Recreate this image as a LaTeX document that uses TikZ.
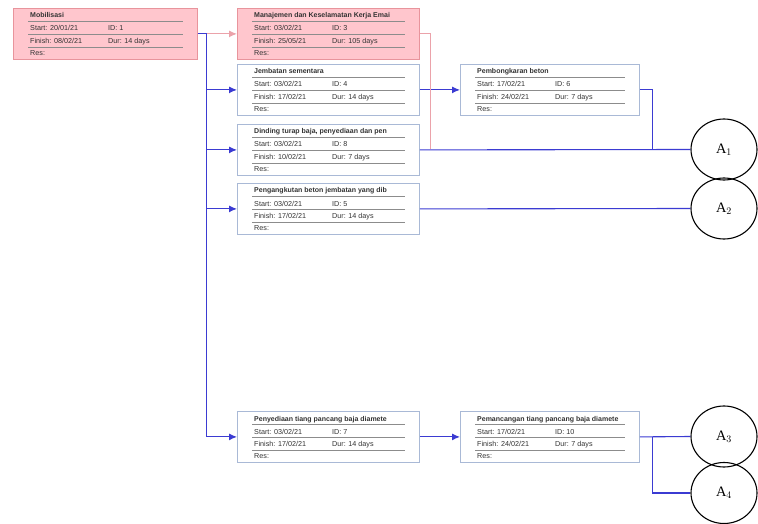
\documentclass[tikz,border=0pt]{standalone}
\usepackage{fontspec}
\setmainfont{Liberation Serif}
\setsansfont{Liberation Sans}
\usepackage{xcolor}
\usepackage{tikz}
\usetikzlibrary{shapes,arrows.meta,positioning,calc}
\definecolor{critfill}{HTML}{FFC6CD}
\definecolor{critline}{HTML}{E8949C}
\definecolor{taskline}{HTML}{A9B9D6}
\definecolor{rowgrey}{HTML}{8C8C8C}
\definecolor{linkblue}{HTML}{3B3BD2}
\definecolor{linkpink}{HTML}{EBA2AA}
\definecolor{textgrey}{HTML}{333333}

\tikzset{
  task/.style={draw=taskline, fill=white, line width=0.8pt, anchor=north west,
               minimum width=182pt, minimum height=51pt, inner sep=0pt},
  crit/.style={task, draw=critline, fill=critfill},
  celltext/.style={anchor=base west, inner sep=0pt, text=textgrey,
                   font=\sffamily\fontsize{7.2}{8}\selectfont},
  rowrule/.style={draw=rowgrey, line width=0.5pt},
  endnode/.style={draw=black, line width=1.1pt, ellipse, minimum width=66pt,
                  minimum height=61pt, inner sep=0pt, font=\Large},
  bluelink/.style={draw=linkblue, line width=1.1pt},
  pinklink/.style={draw=linkpink, line width=1.1pt},
  tip/.style={-{Latex[length=8pt,width=7pt]}}
}

% rows inside a task box: name, title, start, id, finish, duration
\newcommand{\taskrows}[6]{%
  \node[celltext, font=\sffamily\bfseries\fontsize{7}{8}\selectfont] at ($(#1.north west)+(17,10)$) {#2};
  \draw[rowrule] ($(#1.north west)+(15,13.5)$) -- ($(#1.north east)+(-15,13.5)$);
  \node[celltext] at ($(#1.north west)+(17,23)$) {Start: #3};
  \node[celltext] at ($(#1.north west)+(95,23)$) {ID: #4};
  \draw[rowrule] ($(#1.north west)+(15,26.5)$) -- ($(#1.north east)+(-15,26.5)$);
  \node[celltext] at ($(#1.north west)+(17,35.5)$) {Finish: #5};
  \node[celltext] at ($(#1.north west)+(95,35.5)$) {Dur: #6};
  \draw[rowrule] ($(#1.north west)+(15,39)$) -- ($(#1.north east)+(-15,39)$);
  \node[celltext] at ($(#1.north west)+(17,47.5)$) {Res:};
}

\begin{document}
\begin{tikzpicture}[x=1pt, y=-1pt]
  \useasboundingbox (0,0) rectangle (758,524);

  % task boxes
  \node[crit, minimum width=184pt] (mob) at (13,8) {};
  \node[crit] (kkk) at (237,8) {};
  \node[task] (jemb) at (237,64) {};
  \node[task, minimum width=179pt] (bongkar) at (460,64) {};
  \node[task] (turap) at (237,124) {};
  \node[task] (angkut) at (237,183) {};
  \node[task] (sedia) at (237,411) {};
  \node[task, minimum width=179pt] (pancang) at (460,411) {};

  \taskrows{mob}{Mobilisasi}{20/01/21}{1}{08/02/21}{14 days}
  \taskrows{kkk}{Manajemen dan Keselamatan Kerja Emai}{03/02/21}{3}{25/05/21}{105 days}
  \taskrows{jemb}{Jembatan sementara}{03/02/21}{4}{17/02/21}{14 days}
  \taskrows{bongkar}{Pembongkaran beton}{17/02/21}{6}{24/02/21}{7 days}
  \taskrows{turap}{Dinding turap baja, penyediaan dan pen}{03/02/21}{8}{10/02/21}{7 days}
  \taskrows{angkut}{Pengangkutan beton jembatan yang dib}{03/02/21}{5}{17/02/21}{14 days}
  \taskrows{sedia}{Penyediaan tiang pancang baja diamete}{03/02/21}{7}{17/02/21}{14 days}
  \taskrows{pancang}{Pemancangan tiang pancang baja diamete}{17/02/21}{10}{24/02/21}{7 days}

  % end nodes
  \node[endnode] (a1) at (724,149.5) {A$_1$};
  \node[endnode] (a2) at (724,208.5) {A$_2$};
  \node[endnode] (a3) at (724,436.5) {A$_3$};
  \node[endnode] (a4) at (724,493) {A$_4$};

  % links
  \coordinate (split) at ($(mob.east)+(9,0)$);
  \draw[bluelink] (mob.east) -- (split) -- (split |- sedia.west);
  \draw[pinklink, tip] (split) -- (kkk.west);
  \draw[bluelink, tip] (split |- jemb.west) -- (jemb.west);
  \draw[bluelink, tip] (split |- turap.west) -- (turap.west);
  \draw[bluelink, tip] (split |- angkut.west) -- (angkut.west);
  \draw[bluelink, tip] (split |- sedia.west) -- (sedia.west);
  \draw[bluelink, tip] (jemb.east) -- (bongkar.west);
  \draw[bluelink, tip] (sedia.east) -- (pancang.west);

  \coordinate (kbend) at ($(kkk.east)+(11,0)$);
  \draw[pinklink] (kkk.east) -- (kbend) -- (kbend |- a1.west);
  \coordinate (bbend) at ($(bongkar.east)+(13,0)$);
  \draw[bluelink] (bongkar.east) -- (bbend) -- (bbend |- a1.west);
  \draw[bluelink] (turap.east) -- (a1.west);
  \draw[bluelink] (angkut.east) -- (a2.west);

  \coordinate (pbend) at ($(pancang.east)+(13,0)$);
  \draw[bluelink] (pancang.east) -- (a3.west);
  \draw[bluelink] (pbend) -- (pbend |- a4.west) -- (a4.west);
\end{tikzpicture}
\end{document}
